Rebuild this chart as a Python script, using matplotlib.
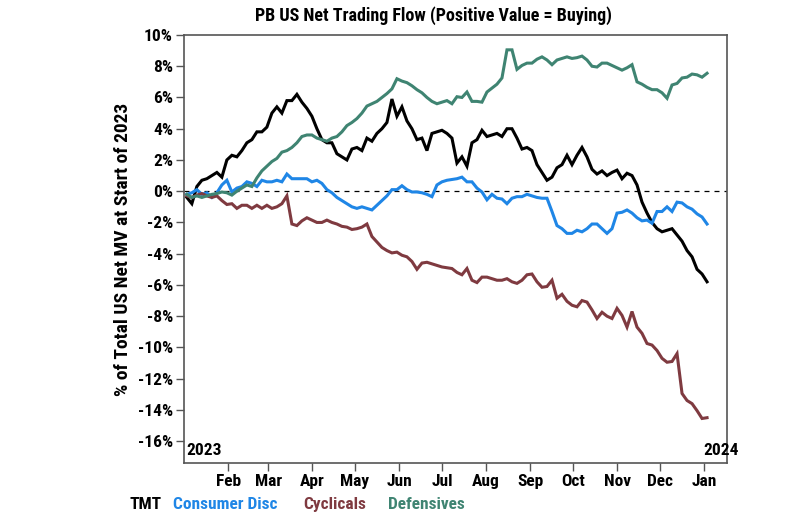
import numpy as np
import pandas as pd
import matplotlib
matplotlib.use("Agg")
import matplotlib.pyplot as plt
import matplotlib.dates as mdates
from matplotlib import font_manager

# data, one value every ~3.5 days from 3 Jan 2023 to 3 Jan 2024
start_date = "2023-01-03"
end_date = "2024-01-03"

tmt = [-0.4, -0.8, 0.3, 0.7, 0.8, 1.0, 1.2, 0.9, 2.0, 2.3,
       2.2, 2.6, 3.1, 3.3, 3.8, 3.8, 4.1, 5.0, 5.4, 5.0,
       5.8, 5.8, 6.2, 5.7, 5.3, 4.8, 4.0, 3.3, 3.1, 3.1,
       2.4, 2.2, 2.0, 2.7, 2.8, 2.6, 3.4, 3.2, 3.7, 4.0,
       4.4, 5.9, 4.8, 5.4, 4.5, 4.0, 3.3, 3.4, 2.6, 3.7,
       3.8, 3.9, 3.7, 3.4, 1.8, 2.2, 1.6, 3.1, 3.3, 3.9,
       3.5, 3.6, 3.7, 3.5, 4.0, 4.0, 3.4, 2.7, 2.8, 2.6,
       1.7, 1.2, 0.7, 0.9, 1.5, 1.7, 2.3, 1.7, 2.3, 2.8,
       2.2, 1.4, 1.1, 1.3, 1.0, 1.2, 1.35, 0.8, 1.15, 1.0,
       0.4, -0.7, -1.4, -2.0, -2.4, -2.6, -2.5, -2.4, -2.8, -3.2,
       -3.8, -4.2, -5.0, -5.3, -5.8]

consumer_disc = [-0.2, -0.1, 0.1, -0.2, -0.1, -0.4, -0.1, 0.4, 0.7, -0.05,
                 0.2, 0.3, 0.6, 0.5, 0.3, 0.7, 0.6, 0.6, 0.7, 0.6,
                 1.1, 0.8, 0.8, 0.8, 0.8, 0.6, 0.7, 0.5, 0.1, -0.1,
                 -0.4, -0.6, -0.8, -1.0, -1.1, -1.0, -1.1, -1.2, -0.9, -0.6,
                 -0.3, 0.1, 0.1, 0.35, 0.1, -0.05, -0.05, -0.1, -0.2, -0.35,
                 0.4, 0.6, 0.7, 0.75, 0.8, 0.9, 0.6, 0.6, 0.2, -0.05,
                 -0.55, -0.2, -0.45, -0.5, -0.8, -0.45, -0.35, -0.35, -0.2, -0.3,
                 -0.4, -0.45, -0.45, -1.3, -2.2, -2.4, -2.7, -2.7, -2.5, -2.6,
                 -2.4, -2.1, -2.1, -2.4, -2.7, -2.4, -1.4, -1.35, -1.2, -1.4,
                 -1.7, -1.9, -1.85, -2.05, -1.3, -1.3, -1.0, -1.3, -0.7, -0.75,
                 -1.0, -1.15, -1.45, -1.65, -2.1]

cyclicals = [-0.3, -0.4, -0.25, -0.15, -0.3, -0.4, -0.3, -0.6, -0.85, -0.8,
             -1.1, -0.9, -0.9, -1.1, -0.9, -1.1, -0.9, -1.1, -1.0, -0.8,
             -0.3, -2.1, -2.2, -1.9, -1.7, -1.85, -2.0, -2.0, -1.85, -2.0,
             -2.1, -2.25, -2.3, -2.45, -2.4, -2.3, -2.1, -2.9, -3.25, -3.6,
             -3.8, -3.95, -3.9, -4.1, -4.2, -4.5, -5.0, -4.6, -4.55, -4.65,
             -4.75, -4.85, -4.9, -4.95, -5.2, -5.35, -4.95, -5.7, -5.85, -5.5,
             -5.5, -5.6, -5.7, -5.7, -5.6, -5.8, -5.9, -5.7, -5.35, -5.3,
             -5.8, -6.15, -6.1, -5.7, -6.85, -6.6, -7.05, -7.3, -7.4, -7.0,
             -7.1, -7.6, -8.15, -7.75, -8.0, -8.15, -7.5, -7.95, -8.7, -7.7,
             -8.7, -9.1, -9.75, -9.85, -10.2, -10.7, -10.95, -10.9, -10.4, -12.95,
             -13.4, -13.6, -14.05, -14.55, -14.5]

defensives = [-0.2, -0.4, -0.3, -0.4, -0.3, -0.2, -0.15, -0.05, -0.1, -0.25,
              0.0, 0.2, 0.4, 0.3, 0.85, 1.3, 1.6, 1.9, 2.1, 2.5,
              2.6, 2.8, 3.1, 3.5, 3.6, 3.6, 3.4, 3.3, 3.2, 3.4,
              3.5, 3.8, 4.2, 4.4, 4.65, 5.0, 5.45, 5.6, 5.75, 6.0,
              6.25, 6.55, 7.2, 7.05, 6.95, 6.75, 6.5, 6.3, 6.0, 5.75,
              5.6, 5.7, 5.8, 5.6, 6.05, 6.0, 6.35, 5.75, 5.75, 5.7,
              6.35, 6.6, 6.85, 7.25, 9.05, 9.05, 7.8, 8.05, 8.2, 8.2,
              8.45, 8.6, 8.4, 8.1, 8.4, 8.5, 8.6, 8.5, 8.55, 8.65,
              8.4, 8.0, 7.95, 8.2, 8.2, 8.05, 7.9, 7.75, 7.9, 8.1,
              7.0, 6.85, 6.65, 6.5, 6.5, 6.3, 5.95, 6.8, 6.9, 7.25,
              7.3, 7.5, 7.45, 7.3, 7.55]

series_names = ["TMT", "Consumer Disc", "Cyclicals", "Defensives"]
series_colors = ["#000000", "#1f86e6", "#7f3a40", "#3f8472"]
y_ticks = list(range(-16, 11, 2))

dates = pd.date_range(start_date, end_date, periods=len(tmt))

installed = {f.name for f in font_manager.fontManager.ttflist}
fam = [f for f in ["Liberation Sans Narrow", "Roboto Condensed", "Roboto", "DejaVu Sans"] if f in installed]
plt.rcParams["font.family"] = fam
plt.rcParams["font.weight"] = "bold"

fig = plt.figure(figsize=(7.93, 5.18), dpi=100)
ax = fig.add_axes([184 / 793, 1 - 463 / 518, (727 - 184) / 793, (463 - 35) / 518])

for vals, c in zip([tmt, consumer_disc, cyclicals, defensives], series_colors):
    ax.plot(dates, vals, color=c, lw=2.2, solid_joinstyle="miter")

ax.axhline(0, color="black", lw=0.9, ls=(0, (4, 4)), zorder=0)

ax.set_ylim(-17.4, 10)
ax.set_yticks(y_ticks)
ax.set_yticklabels([f"{t}%" for t in y_ticks], fontsize=12.5, fontweight="bold")
ax.set_xlim(pd.Timestamp("2023-01-01"), pd.Timestamp("2024-01-17"))
ax.xaxis.set_major_locator(mdates.MonthLocator(bymonth=range(1, 13)))
ticks = [t for t in ax.get_xticks() if t > mdates.date2num(pd.Timestamp("2023-01-15"))]
ax.set_xticks(ticks)
ax.set_xticklabels([mdates.num2date(t).strftime("%b") for t in ticks], fontsize=12.5, fontweight="bold")
ax.tick_params(axis="both", direction="out", length=6, width=1, color="#555555", pad=2)
ax.tick_params(axis="x", pad=2)

for s in ax.spines.values():
    s.set_color("#555555")
    s.set_linewidth(1.2)

ax.text(0.005, 0.012, "2023", transform=ax.transAxes, fontsize=12.5, fontweight="bold", ha="left", va="bottom")
ax.text(1.022, 0.012, "2024", transform=ax.transAxes, fontsize=12.5, fontweight="bold", ha="right", va="bottom")

ax.set_ylabel("% of Total US Net MV at Start of 2023", fontsize=14, fontweight="bold", labelpad=4)

fig.text(433 / 793, 1 - 16 / 518, "PB US Net Trading Flow (Positive Value = Buying)",
         fontsize=13, fontweight="bold", ha="center", va="center")

legend_x = [130, 173, 303, 388]
for name, c, lx in zip(series_names, series_colors, legend_x):
    fig.text(lx / 793, 1 - 509 / 518, name, color=c, fontsize=12.5, fontweight="bold", ha="left", va="baseline")

fig.savefig("out.png", dpi=100)
